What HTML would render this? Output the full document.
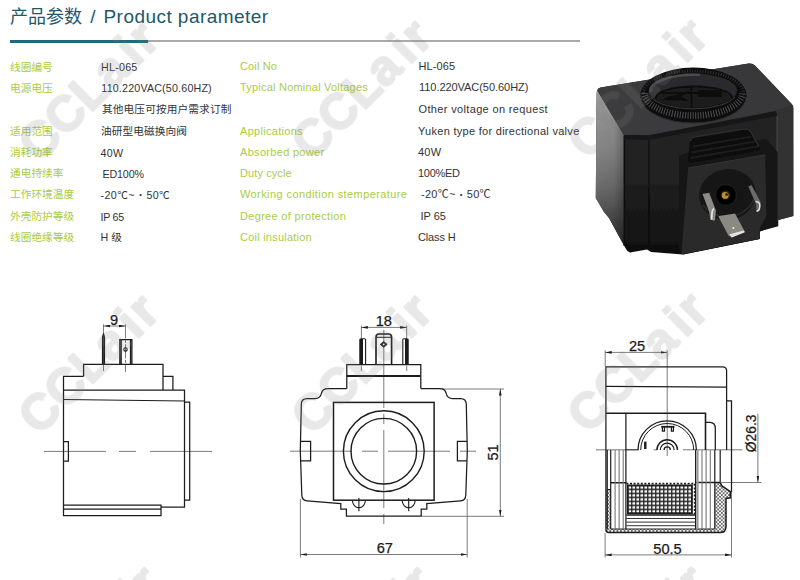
<!DOCTYPE html>
<html lang="zh">
<head>
<meta charset="utf-8">
<title>产品参数 / Product parameter</title>
<style>
html,body{margin:0;padding:0;background:#fff;}
body{width:800px;height:580px;position:relative;overflow:hidden;font-family:"Liberation Sans","Noto Sans CJK SC",sans-serif;}
.abs{position:absolute;white-space:nowrap;}
h1{position:absolute;left:0;top:0;margin:0;font-weight:normal;font-size:18px;line-height:26px;color:#215868;white-space:nowrap;}
h1 span{position:absolute;top:4px;}
.hc{left:10px;}
.hs{left:90.3px;font-size:19px;top:3.5px;}
.hl{left:103.5px;font-size:19px;letter-spacing:0.45px;top:3.5px;}
.bar1{position:absolute;left:10px;top:39.9px;width:138px;height:3.2px;background:#1f687e;}
.bar2{position:absolute;left:148px;top:40.3px;width:432px;height:2.2px;background:#ababab;}
.row{position:absolute;left:0;height:16px;line-height:16px;font-size:10.7px;white-space:nowrap;}
.row span{position:absolute;top:0;}
.lc{left:10px;color:#a9cc3f;}
.vc{left:101px;color:#333;}
.le{left:240px;color:#a9cc3f;font-size:11px;}
.ve{left:418px;color:#333;font-size:11px;}
.b{font-style:normal;font-size:7.5px;line-height:1px;position:relative;top:-1.9px;margin:0 0.9px;}
</style>
</head>
<body>
<h1><span class="hc">产品参数</span><span class="hs">/</span><span class="hl">Product parameter</span></h1>
<div class="bar1"></div><div class="bar2"></div>

<div class="row" style="top:58.4px"><span class="lc" style="top:0.7px">线圈编号</span><span class="vc" style="left:101px;letter-spacing:0.25px;top:0.8px">HL-065</span><span class="le" style="left:240px;letter-spacing:0.13px">Coil No</span><span class="ve" style="left:418.5px;letter-spacing:0.1px">HL-065</span></div>
<div class="row" style="top:79.4px"><span class="lc" style="top:0.8px">电源电压</span><span class="vc" style="left:101.3px;letter-spacing:0.18px;top:0.8px">110.220VAC(50.60HZ)</span><span class="le" style="left:240px;letter-spacing:0.21px">Typical Nominal Voltages</span><span class="ve" style="left:419px;letter-spacing:-0.05px">110.220VAC(50.60HZ)</span></div>
<div class="row" style="top:100.9px"><span class="vc" style="left:102px;letter-spacing:0.1px">其他电压可按用户需求订制</span><span class="ve" style="left:418.5px;letter-spacing:0.35px">Other voltage on request</span></div>
<div class="row" style="top:122.9px"><span class="lc" style="top:0.5px">适用范围</span><span class="vc" style="left:101px;letter-spacing:0.05px">油研型电磁换向阀</span><span class="le" style="left:240px;letter-spacing:0.3px">Applications</span><span class="ve" style="left:418px;letter-spacing:0.29px">Yuken type for directional valve</span></div>
<div class="row" style="top:143.9px"><span class="lc" style="top:0.4px">消耗功率</span><span class="vc" style="left:100.5px;letter-spacing:0.25px;top:0.8px">40W</span><span class="le" style="left:240px;letter-spacing:0.31px">Absorbed power</span><span class="ve" style="left:418px;letter-spacing:0.2px">40W</span></div>
<div class="row" style="top:164.9px"><span class="lc">通电持续率</span><span class="vc" style="left:102.5px;letter-spacing:-0.15px;top:0.8px">ED100%</span><span class="le" style="left:240px;letter-spacing:0.1px">Duty cycle</span><span class="ve" style="left:418px;letter-spacing:-0.3px">100%ED</span></div>
<div class="row" style="top:186.4px"><span class="lc">工作环境温度</span><span class="vc" style="left:100.5px;letter-spacing:0.4px;top:0.8px">-20℃~ <i class="b">•</i> 50℃</span><span class="le" style="left:240px;letter-spacing:0.41px">Working condition stemperature</span><span class="ve" style="left:421px;letter-spacing:0.25px">-20℃~ <i class="b">•</i> 50℃</span></div>
<div class="row" style="top:207.9px"><span class="lc">外壳防护等级</span><span class="vc" style="left:100.5px;letter-spacing:-0.25px;top:0.8px">IP 65</span><span class="le" style="left:240px;letter-spacing:0.32px">Degree of protection</span><span class="ve" style="left:420.5px">IP 65</span></div>
<div class="row" style="top:229.1px"><span class="lc">线圈绝缘等级</span><span class="vc" style="left:100.5px">H 级</span><span class="le" style="left:240px;letter-spacing:0.23px">Coil insulation</span><span class="ve" style="left:418px;letter-spacing:-0.15px">Class H</span></div>

<!--PHOTO-->
<svg class="abs" style="left:0;top:0" width="800" height="580" viewBox="0 0 800 580">
<defs>
<linearGradient id="lf" gradientUnits="userSpaceOnUse" x1="600" y1="92" x2="618" y2="250"><stop offset="0" stop-color="#9c9c9c"/><stop offset="0.35" stop-color="#868686"/><stop offset="0.6" stop-color="#6a6a6a"/><stop offset="0.8" stop-color="#484848"/><stop offset="1" stop-color="#2c2c2c"/></linearGradient>
<linearGradient id="lf2" gradientUnits="userSpaceOnUse" x1="596" y1="0" x2="626" y2="0"><stop offset="0" stop-color="#000" stop-opacity="0"/><stop offset="0.6" stop-color="#000" stop-opacity="0.04"/><stop offset="1" stop-color="#000" stop-opacity="0.3"/></linearGradient>
<linearGradient id="ff" x1="0" y1="0" x2="0" y2="1"><stop offset="0" stop-color="#242526"/><stop offset="0.6" stop-color="#212121"/><stop offset="1" stop-color="#0f0f0f"/></linearGradient>
<linearGradient id="tf" x1="0" y1="0" x2="1" y2="0"><stop offset="0" stop-color="#3c3c3e"/><stop offset="1" stop-color="#38383a"/></linearGradient>
<linearGradient id="pin" x1="0" y1="0" x2="1" y2="0"><stop offset="0" stop-color="#6e6e6e"/><stop offset="0.5" stop-color="#c8c8c8"/><stop offset="1" stop-color="#8a8a8a"/></linearGradient>
<radialGradient id="hole" cx="0.5" cy="0.65" r="0.6"><stop offset="0" stop-color="#1c1c1c"/><stop offset="0.7" stop-color="#2b2b2b"/><stop offset="1" stop-color="#3a3a3a"/></radialGradient>
<filter id="soft" x="-5%" y="-5%" width="110%" height="110%"><feGaussianBlur stdDeviation="0.55"/></filter>
</defs>
<g filter="url(#soft)">
<!-- silhouette -->
<path d="M596.6,94 Q596.6,88.4 600.5,87.6 L748.5,63.6 Q752.4,63 755.2,65.8 L791.5,103.8 Q793.4,105.8 793.4,108.5 V215.9 L778.3,220 V226.2 L759.7,231.4 V239 L683,254.6 L651,252 L647,249.5 L630,252.6 Q627.2,251.8 626,249 L609,218 L604,212 L595.8,198 Z" fill="url(#ff)"/>
<!-- left face -->
<path d="M596.6,94 L597.3,90.4 L623.8,135 L624,245.4 L609,218 L604,212 L595.8,198 Z" fill="url(#lf)"/>
<path d="M596.6,94 L597.3,90.4 L623.8,135 L624,245.4 L609,218 L604,212 L595.8,198 Z" fill="url(#lf2)"/>
<!-- top face -->
<path d="M597.3,90.4 Q597.8,88.2 600.5,87.6 L748.5,63.6 Q752.4,63 755.2,65.8 L791.5,103.8 L793,105.6 L775.9,111 L649,135.2 L623.8,135 Z" fill="url(#tf)"/>
<!-- right side strip -->
<path d="M775.9,111 L793.2,105.8 V215.9 L778.3,220 L777,220.3 V116 Z" fill="#303030"/>
<path d="M777,116 V220.3" stroke="#484848" stroke-width="1" fill="none"/>
<!-- front grooves -->
<path d="M649,136 V250 M624.4,136 V246" stroke="#101010" stroke-width="1.6" fill="none"/>
<path d="M623.8,135 L649,135.2 L775.9,111 L777,116 L649,140 L624,139.6 Z" fill="#181818"/>
<!-- ring -->
<clipPath id="holeclip"><ellipse cx="693" cy="90.5" rx="44" ry="16.9"/></clipPath>
<ellipse cx="693.4" cy="95.2" rx="53" ry="27.6" fill="#0b0b0b"/>
<path d="M641,97 A52.4,26 0 0 0 745.8,97" fill="none" stroke="#2a2a2a" stroke-width="1"/>
<path d="M644.4,93 A49,22.6 0 0 0 742.4,93" fill="none" stroke="#4a4a4a" stroke-width="6.5" stroke-dasharray="1.1 1.5"/>
<path d="M643.4,93 A50,22 0 0 1 743.4,93" fill="none" stroke="#303030" stroke-width="3.2" stroke-dasharray="1.1 1.5"/>
<ellipse cx="693" cy="90.6" rx="45.2" ry="18" fill="#121212"/>
<ellipse cx="693" cy="90.5" rx="44" ry="16.9" fill="#2b2b2d"/>
<g clip-path="url(#holeclip)">
<path d="M650,92 A44,17 0 0 1 700,73.6" fill="none" stroke="#4c4c4e" stroke-width="5"/>
<ellipse cx="694" cy="97.5" rx="39" ry="12" fill="#0c0c0c"/>
<ellipse cx="694" cy="98.5" rx="37.5" ry="11" fill="#1e1e1e"/>
<path d="M691.5,86 V110 M668,99 L689,92 M662,93 H722" stroke="#0a0a0a" stroke-width="2" fill="none"/>
<path d="M662,100 Q676,90 689,101 Z M698,90 h24 v7 h-24 Z" fill="#0e0e0e"/>
</g>
<path d="M651,97 A44,16.9 0 0 0 735,97" fill="none" stroke="#3a3a3a" stroke-width="1"/>
<!-- connector outer box -->
<path d="M679,156 L688,152.5 L766,139 L777.6,152 V219.7 L766.4,223 V229 L759.7,231.4 V239 L683,254.6 L679,250 Z" fill="#141414"/>
<!-- tab with ribs -->
<path d="M690,141 Q690.5,137.6 694,137 L744,129 Q748.6,128.4 750.8,131.6 L759.5,147 Q760.4,150 757,150.8 L692,162.5 Q687.6,162.6 688,158.5 Z" fill="#0c0c0c"/>
<path d="M690.4,141 Q690.8,137.8 694,137.2 L744,129.2 Q748.4,128.6 750.6,131.6 L759,146.6" stroke="#2f2f2f" stroke-width="1.3" fill="none"/>
<path d="M693,146.5 L751,136.6 M691.5,152.5 L755,141.6 M690.5,158 L758,146.4" stroke="#1f1f1f" stroke-width="1.8" fill="none"/>
<!-- connector front face -->
<path d="M688,168 L765.3,154.7 L766.4,216.3 L759.7,228.6 V238.7 L681.4,254.3 Z" fill="#2a2a2a"/>
<path d="M688,168 L765.3,154.7" stroke="#333" stroke-width="1" fill="none"/>
<!-- recess -->
<ellipse cx="727.5" cy="194.5" rx="28.5" ry="25.5" fill="#181818" transform="rotate(-10 727.5 194.5)"/>
<path d="M703,205 A28.5,25.5 -10 0 0 755,196" stroke="#2c2c2c" stroke-width="1.5" fill="none"/>
<circle cx="726" cy="195" r="10.5" fill="#050505" stroke="#1f1f1f" stroke-width="1"/>
<circle cx="725.6" cy="195" r="4.6" fill="#2a2208"/>
<circle cx="725.2" cy="195.4" r="3.4" fill="#b8923a"/>
<circle cx="726.6" cy="194.4" r="1.5" fill="#3a2a0c"/>
<!-- pins -->
<path d="M702.5,193.9 L709.2,192.8 L716,210.7 L714.8,220.8 L710.3,219.7 L709.2,211.8 Z" fill="#8b8b84"/>
<path d="M714,208.5 Q712.2,209.5 712,213 L711.6,219.6" stroke="#e6e6e6" stroke-width="1.6" fill="none"/>
<path d="M718.2,216.3 L735,213.4 L745,232 L731.6,237.6 L728.3,235.3 Z" fill="#8a8a82"/>
<path d="M729.6,234.2 L743.6,230.6 L744.8,232.2 L731.6,237.4 Z" fill="#e2e2e2"/>
<circle cx="733.4" cy="228" r="1" fill="#eee"/>
<path d="M748.4,186.6 L751.4,185 L760.6,202 L759.7,210.7 L756.5,211.6 L756.2,204.6 Z" fill="#6c6c6a"/>
<path d="M755.6,201.4 Q760.2,201.4 759.8,206.4 Q759.4,211 756.6,211.2" stroke="#e0e0e0" stroke-width="1.5" fill="none"/>
</g>
</svg>

<!--DRAW-->
<svg class="abs" style="left:0;top:0" width="800" height="580" viewBox="0 0 800 580">
<defs>
<marker id="ah" viewBox="0 0 6.5 3" refX="6.5" refY="1.5" markerWidth="6.5" markerHeight="3" markerUnits="userSpaceOnUse" orient="auto-start-reverse"><path d="M0,0.2 L6.5,1.5 L0,2.8 Z" fill="#1c1c1c"/></marker>
<pattern id="grid" x="627.1" y="484.6" width="4" height="4" patternUnits="userSpaceOnUse"><path d="M0,0.7 H4 M0.7,0 V4" stroke="#222" stroke-width="1.35" fill="none"/></pattern>
<pattern id="xh" x="0" y="0" width="3.6" height="3.6" patternUnits="userSpaceOnUse"><path d="M0,0 L3.6,3.6 M3.6,0 L0,3.6" stroke="#222" stroke-width="0.62" fill="none"/></pattern>
</defs>
<g fill="none" stroke="#1c1c1c" stroke-width="1.25" stroke-linejoin="miter" font-family="'Liberation Sans',sans-serif">

<!-- ===== drawing 1 : side view ===== -->
<g id="d1">
<text x="114" y="324.6" font-size="14.6" fill="#1a1a1a" stroke="#1a1a1a" stroke-width="0.25" text-anchor="middle">9</text>
<g stroke-width="0.8" stroke="#5a5a5a">
<line x1="103.5" y1="326" x2="125.5" y2="326" marker-start="url(#ah)" marker-end="url(#ah)"/>
<line x1="103.5" y1="324.3" x2="103.5" y2="371" stroke-dasharray="14 1.5 3 1.5"/>
<line x1="125.5" y1="324.3" x2="125.5" y2="372" stroke-dasharray="14 1.5 3 1.5"/>
<line x1="44" y1="451.4" x2="212" y2="451.4" stroke-dasharray="62 13 17 14"/>
</g>
<path d="M102.5,364.3 V337.5 L103.5,333.6 L104.5,337.5 V364.3" stroke-linejoin="round" stroke-width="1.2" fill="#444"/>
<path d="M119.8,364.3 V339.5 H131.9 V364.3 M130.5,339.5 V364.3 M121.2,339.5 V364.3"/>
<circle cx="125.5" cy="349.4" r="1.7" stroke-width="1.1"/>
<path d="M83.6,376.3 V364.3 H163 V390"/>
<path d="M83.6,376.3 H63.5 V515.5 H161 V505 H63.5 M63.5,509.2 H161"/>
<path d="M163,376.3 H172.9 V390"/>
<path d="M63.5,390 H184.5 V507 H161"/>
<path d="M63.5,399.5 L184.5,401"/>
<path d="M184.5,402 H189.7 V500 H184.5"/>
<path d="M63.5,441.6 H68.4 V461 H63.5"/>
</g>

<!-- ===== drawing 2 : front view ===== -->
<g id="d2">
<text x="383.8" y="325.6" font-size="14.6" fill="#1a1a1a" stroke="#1a1a1a" stroke-width="0.25" text-anchor="middle">18</text>
<text transform="translate(498,452.5) rotate(-90)" font-size="14.6" fill="#1a1a1a" stroke="#1a1a1a" stroke-width="0.25" text-anchor="middle">51</text>
<text x="384.8" y="552.6" font-size="14.6" fill="#1a1a1a" stroke="#1a1a1a" stroke-width="0.25" text-anchor="middle">67</text>
<g stroke-width="0.8" stroke="#5a5a5a">
<line x1="361.4" y1="327.4" x2="406.7" y2="327.4" marker-start="url(#ah)" marker-end="url(#ah)"/>
<line x1="361.4" y1="325.6" x2="361.4" y2="371" stroke-dasharray="14 1.5 3 1.5"/>
<line x1="406.7" y1="325.6" x2="406.7" y2="371" stroke-dasharray="14 1.5 3 1.5"/>
<line x1="383.8" y1="330" x2="383.8" y2="529" stroke-dasharray="78 6 10 6"/>
<line x1="290" y1="451.2" x2="477" y2="451.2" stroke-dasharray="62 10 16 10"/>
<line x1="442" y1="389" x2="504" y2="389"/>
<line x1="421.5" y1="516.3" x2="504" y2="516.3"/>
<line x1="500.3" y1="389" x2="500.3" y2="516.2" marker-start="url(#ah)" marker-end="url(#ah)"/>
<line x1="300.4" y1="499" x2="300.4" y2="557.5"/>
<line x1="467.2" y1="499" x2="467.2" y2="557.5"/>
<line x1="300.4" y1="554.5" x2="467.2" y2="554.5" marker-start="url(#ah)" marker-end="url(#ah)"/>
</g>
<!-- pins -->
<path d="M360,364.5 V339.8 Q360,338.8 361,338.8 H364.6 Q365.6,338.8 365.6,339.8 V364.5" stroke-width="1.1"/><rect x="359.6" y="339" width="3.4" height="25.5" fill="#1c1c1c" stroke="none"/>
<path d="M408,364.5 V339.8 Q408,338.8 407,338.8 H403.8 Q402.8,338.8 402.8,339.8 V364.5" stroke-width="1.1"/><rect x="405" y="339" width="3.4" height="25.5" fill="#1c1c1c" stroke="none"/>
<path d="M376,364.5 V337.2 Q376,334 379.2,334 H388.4 Q391.6,334 391.6,337.2 V364.5" stroke-width="1.6"/>
<path d="M376,337.3 H391.6" stroke-width="1"/>
<path d="M383.7,341.5 L387.2,344.4 L383.7,347.3 L380.2,344.4 Z" fill="#222" stroke-width="0.8"/><circle cx="383.7" cy="344.4" r="0.9" fill="#fff" stroke="none"/>
<!-- top block -->
<path d="M346.8,388.5 V364.5 H420.8 V388.5"/>
<path d="M346.8,376 H420.8" stroke-width="1.8"/>
<!-- outer body -->
<path d="M346.8,388.5 H328 Q322.5,388.5 321.5,393 Q320.5,398.5 315,398.5 H307 Q301.5,398.5 301.3,404 L300.3,451 L301.8,495 Q302,500.5 307,500.9 L340.8,503.6 V509 H346.4 V516.1 H421.2 V509 H426.8 V503.6 L460.6,500.9 Q465.6,500.5 465.8,495 L467.3,451 L466.3,404 Q466.1,398.5 460.6,398.5 H452.6 Q447.1,398.5 446.1,393 Q445.1,388.5 439.6,388.5 H420.8"/>
<!-- inner square -->
<rect x="333.5" y="402.4" width="100.6" height="97.8" stroke-width="1.5"/>
<circle cx="383.8" cy="451.2" r="40.4" stroke-width="1.4"/>
<circle cx="383.8" cy="451.2" r="32.8" stroke-width="1.4"/>
<!-- side tabs -->
<path d="M300.6,441.4 H310.6 V460.8 H300.6"/>
<path d="M467,441.4 H457.4 V460.8 H467"/>
<!-- screws -->
<path d="M352.4,500.3 A6.5,7.6 0 0 0 365.4,500.3 M358.9,498 V511.3" stroke-width="1.1"/>
<path d="M402.2,500.3 A6.5,7.6 0 0 0 415.2,500.3 M408.7,498 V511.3" stroke-width="1.1"/>
</g>

<!-- ===== drawing 3 : section view ===== -->
<g id="d3">
<text x="637" y="350.5" font-size="14.6" fill="#1a1a1a" stroke="#1a1a1a" stroke-width="0.25" text-anchor="middle">25</text>
<text x="667.5" y="553.6" font-size="14.6" fill="#1a1a1a" stroke="#1a1a1a" stroke-width="0.25" text-anchor="middle">50.5</text>
<text transform="translate(755.9,433.4) rotate(-90)" font-size="13.9" fill="#1a1a1a" stroke="#1a1a1a" stroke-width="0.25" text-anchor="middle">Ø26.3</text>
<g stroke-width="0.8" stroke="#5a5a5a">
<line x1="605.2" y1="352.4" x2="667.1" y2="352.4" marker-start="url(#ah)" marker-end="url(#ah)"/>
<line x1="605.2" y1="350.4" x2="605.2" y2="366.5"/>
<line x1="667.2" y1="350.4" x2="667.2" y2="456"/>
<path d="M596,449.8 H626 M653.5,449.8 H657.5 M683,449.8 H742.5" stroke="#555"/>
<line x1="757.9" y1="413.7" x2="757.9" y2="482.5" marker-end="url(#ah)"/>
<line x1="721" y1="482.5" x2="761.5" y2="482.5"/>
<line x1="605.1" y1="533" x2="605.1" y2="557.5"/>
<line x1="731.5" y1="491" x2="731.5" y2="557.5"/>
<line x1="605.1" y1="554.9" x2="731.5" y2="554.9" marker-start="url(#ah)" marker-end="url(#ah)"/>
</g>
<!-- crosshatch fills -->
<path d="M605.9,489.5 H610.7 V529 H714.8 V482.5 H720.2 L721.7,485.7 L730.3,491.7 V497.8 L726,498.5 V526.5 Q726,532.6 720,532.6 H608.9 Q605.9,532.6 605.9,529.6 Z" fill="url(#xh)" stroke="none"/>
<!-- grid -->
<rect x="627.8" y="485.4" width="64.2" height="27.9" fill="url(#grid)" stroke-width="1.7"/>
<path d="M626.4,483.6 H694.6 V514.6" stroke-width="1.6" stroke-dasharray="2 1.6"/>
<path d="M626.4,514.9 H695.9" stroke-width="1.5"/>
<!-- outline -->
<path d="M605.9,529.6 V366.8 H722.6 Q726.6,366.8 726.6,370.8 V450"/>
<path d="M605.9,529.6 Q605.9,532.6 608.9,532.6 H720 Q726,532.6 726,526.5 V498.5 L730.3,497.8 V491.7 L721.7,485.7 L720.2,482.6" stroke-width="1.5"/>
<path d="M605.9,386.4 L726.6,387.1"/>
<path d="M605.9,413.3 H705.5 V450" stroke-width="1.6"/>
<path d="M705.5,422.4 H710 Q715.3,422.6 715.3,428.4 V450"/>
<path d="M726.6,400.8 H731.5 V491.7"/>
<path d="M625.9,413.3 V529"/>
<path d="M625.6,449.8 H638.6" stroke-width="1.1"/>
<path d="M610.7,482.7 H626.4 M695.6,482.6 H720.2" stroke-width="1.5"/>
<path d="M610.7,529 H714.8" stroke-width="1"/>
<path d="M695.6,449.8 V529" stroke-width="1.2"/>
<!-- semicircle -->
<path d="M638,450 A29.2,29.2 0 0 1 696.4,450"/>
<path d="M640.7,450 A26.5,26.5 0 0 1 693.7,450" stroke-width="1"/>
<path d="M661.2,426.8 H674.5" stroke-width="1.8"/>
<path d="M662.4,427 V431.2 H664.4 V427 M671.4,427 V431.2 H673.4 V427" stroke-width="1.2"/>
<path d="M645.3,441.6 V449" stroke-width="2.4"/>
<path d="M656.9,450 A10.3,10.3 0 0 1 677.5,450" stroke-width="1.4"/>
<path d="M660.3,450 A6.9,6.9 0 0 1 674.1,450" stroke-width="1.3"/>
<path d="M664.1,450 A3.1,3.1 0 0 1 670.3,450" stroke-width="1.3"/>
<path d="M607.2,450 V529.5" stroke-width="1.3"/>
<path d="M610.7,450 V529" stroke-width="1.2"/>
<path d="M607,489.5 H610.7" stroke-width="1.1"/>
<path d="M615.1,450 V529 M619.1,450 V529 M623.2,450 V529 M702,450 V529 M706.1,450 V529 M710.3,450 V529" stroke="#777" stroke-width="1.1"/>
<path d="M697.5,450 V529" stroke="#999" stroke-width="2.2"/>
<path d="M714.8,450 V529 M720.2,450 V482.6" stroke-width="1.2"/>
<path d="M626.4,518.5 H695.9 M626.4,522.1 H695.9 M626.4,525.7 H695.9" stroke-width="0.9"/>
</g>

</g>
</svg>

<!--WM-->
<svg class="abs" style="left:0;top:0" width="800" height="580" viewBox="0 0 800 580">
<g font-family="'Liberation Sans',sans-serif" font-weight="bold" font-size="50" letter-spacing="0" fill="#808080" stroke="#808080" stroke-width="1.9" stroke-linejoin="round" opacity="0.185">
<text transform="translate(39.4,164.4) rotate(-45)">CCLa<tspan dx="6.5">i</tspan><tspan dx="2.5">r</tspan></text>
<text transform="translate(312.4,162.4) rotate(-45)">CCLa<tspan dx="6.5">i</tspan><tspan dx="2.5">r</tspan></text>
<text transform="translate(588.4,161.4) rotate(-45)">CCLa<tspan dx="6.5">i</tspan><tspan dx="2.5">r</tspan></text>
<text transform="translate(39.4,436.9) rotate(-45)">CCLa<tspan dx="6.5">i</tspan><tspan dx="2.5">r</tspan></text>
<text transform="translate(312.4,436.9) rotate(-45)">CCLa<tspan dx="6.5">i</tspan><tspan dx="2.5">r</tspan></text>
<text transform="translate(588.4,435.4) rotate(-45)">CCLa<tspan dx="6.5">i</tspan><tspan dx="2.5">r</tspan></text>
<text transform="translate(41.4,708.4) rotate(-45)">CCLa<tspan dx="6.5">i</tspan><tspan dx="2.5">r</tspan></text>
<text transform="translate(314.4,708.4) rotate(-45)">CCLa<tspan dx="6.5">i</tspan><tspan dx="2.5">r</tspan></text>
<text transform="translate(588.4,707.9) rotate(-45)">CCLa<tspan dx="6.5">i</tspan><tspan dx="2.5">r</tspan></text>
</g>
</svg>
</body>
</html>
